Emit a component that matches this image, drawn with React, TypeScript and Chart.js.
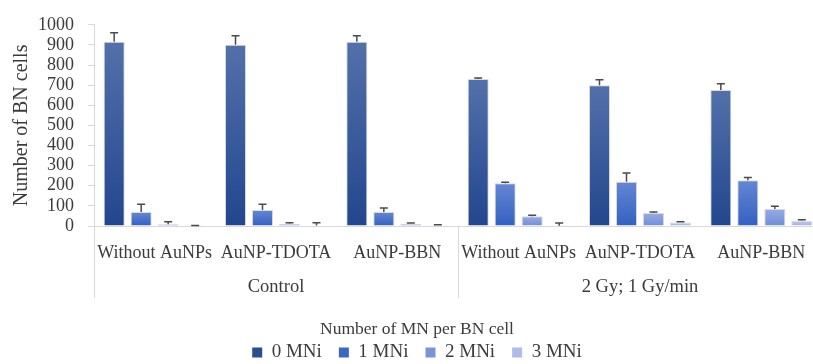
import React, { useEffect, useRef } from "react";
import { Chart, registerables } from "chart.js";

Chart.register(...registerables);

// Treatment categories (x axis) and the two outer groups they belong to
const categories = [
  "Without AuNPs",
  "AuNP-TDOTA",
  "AuNP-BBN",
  "Without AuNPs",
  "AuNP-TDOTA",
  "AuNP-BBN",
];
const groups = ["Control", "2 Gy; 1 Gy/min"];
const groupSize = 3;

// Number of BN cells by micronuclei count
const seriesNames = ["0 MNi", "1 MNi", "2 MNi", "3 MNi"];
const mn0 = [916, 901, 916, 731, 700, 676];
const mn1 = [69, 79, 70, 213, 220, 228];
const mn2 = [9, 11, 11, 48, 64, 85];
const mn3 = [1, 2, 4, 1, 18, 26];

// Upper error bars
const err0 = [44, 44, 29, 4, 27, 31];
const err1 = [39, 29, 20, 5, 43, 13];
const err2 = [12, 5, 4, 6, 5, 13];
const err3 = [1, 14, 2, 14, 3, 5];

const yMin = 0;
const yMax = 1000;
const yStep = 100;

const seriesValues = [mn0, mn1, mn2, mn3];
const seriesErrors = [err0, err1, err2, err3];

// gradient top, gradient bottom, flat (legend) colour
const palette = [
  ["#5370aa", "#22468e", "#2b4e92"],
  ["#6586d3", "#3361c2", "#3a66c4"],
  ["#97abe3", "#6f8fd8", "#7893d8"],
  ["#bdc8ee", "#a3b3e7", "#aebde9"],
];

const FONT = "'Liberation Serif', 'Times New Roman', serif";
const TEXT = "#3b3b3b";
const AXIS = "#d9d9d9";

const barFill = (s: number) => (ctx: any) => {
  const chart = ctx.chart;
  if (ctx.type !== "data" || !chart.chartArea) return palette[s][2];
  const y = chart.scales.y;
  const top = y.getPixelForValue(ctx.raw);
  const bottom = y.getPixelForValue(0);
  if (!(bottom - top > 0.5)) return palette[s][1];
  const g = chart.ctx.createLinearGradient(0, top, 0, bottom);
  g.addColorStop(0, palette[s][0]);
  g.addColorStop(1, palette[s][1]);
  return g;
};

const errorBars = {
  id: "errorBars",
  afterDatasetsDraw(chart: any) {
    const { ctx } = chart;
    const y = chart.scales.y;
    ctx.save();
    ctx.strokeStyle = "#4a4a4a";
    ctx.lineWidth = 1.5;
    chart.data.datasets.forEach((ds: any, i: number) => {
      const meta = chart.getDatasetMeta(i);
      meta.data.forEach((bar: any, j: number) => {
        const top = y.getPixelForValue(ds.data[j] + ds.errors[j]);
        const x = bar.x;
        ctx.beginPath();
        ctx.moveTo(x, bar.y);
        ctx.lineTo(x, top);
        ctx.moveTo(x - 4, top);
        ctx.lineTo(x + 4, top);
        ctx.stroke();
      });
    });
    ctx.restore();
  },
};

const groupAxis = {
  id: "groupAxis",
  afterLayout(chart: any) {
    // centre the legend on the full canvas width rather than the padded box
    const lg = chart.legend;
    if (lg) {
      const shift = (chart.width - (lg.left + lg.right)) / 2;
      lg.left += shift;
      lg.right += shift;
    }
  },
  afterDraw(chart: any) {
    const { ctx, chartArea } = chart;
    const xs = chart.scales.x;
    const catW = (xs.right - xs.left) / categories.length;
    ctx.save();
    ctx.strokeStyle = AXIS;
    ctx.lineWidth = 1;
    for (let g = 0; g <= groups.length; g++) {
      const x = Math.round(xs.left + g * groupSize * catW) + 0.5;
      ctx.beginPath();
      ctx.moveTo(x, chartArea.bottom);
      ctx.lineTo(x, chartArea.bottom + 72);
      ctx.stroke();
    }
    ctx.fillStyle = TEXT;
    ctx.font = `18.5px ${FONT}`;
    ctx.textAlign = "center";
    ctx.textBaseline = "middle";
    groups.forEach((name, g) => {
      const cx = xs.left + (g * groupSize + groupSize / 2) * catW;
      ctx.fillText(name, cx, chartArea.bottom + 61);
    });
    ctx.restore();
  },
};

export default function App() {
  const ref = useRef<HTMLCanvasElement>(null);

  useEffect(() => {
    if (!ref.current) return;
    const chart = new Chart(ref.current, {
      type: "bar",
      data: {
        labels: categories,
        datasets: seriesNames.map((name, s) => ({
          label: name,
          data: seriesValues[s],
          errors: seriesErrors[s],
          backgroundColor: barFill(s),
          borderColor: "rgba(150,150,150,0.35)",
          borderWidth: 1,
          categoryPercentage: 0.89,
          barPercentage: 0.78,
        })) as any,
      },
      options: {
        animation: false,
        responsive: false,
        maintainAspectRatio: false,
        layout: { padding: { top: 22, right: 12, bottom: -8, left: 0 } },
        plugins: {
          tooltip: { enabled: false },
          legend: {
            position: "bottom",
            title: {
              display: true,
              text: "Number of MN per BN cell",
              color: TEXT,
              font: { family: FONT, size: 17.5 },
              padding: { top: 4, bottom: -16 },
            },
            labels: {
              color: TEXT,
              font: { family: FONT, size: 19 },
              boxWidth: 10,
              boxHeight: 10,
              padding: 17,
              generateLabels: (chart: any) =>
                chart.data.datasets.map((ds: any, i: number) => ({
                  text: ds.label,
                  fillStyle: palette[i][2],
                  strokeStyle: palette[i][2],
                  lineWidth: 0,
                  fontColor: TEXT,
                  datasetIndex: i,
                  hidden: false,
                })),
            },
          },
        },
        scales: {
          x: {
            grid: { display: false },
            border: { display: true, color: AXIS },
            ticks: {
              color: TEXT,
              font: { family: FONT, size: 18 },
              padding: 8,
              maxRotation: 0,
              autoSkip: false,
            },
            afterFit: (s: any) => {
              s.height = 91;
            },
          },
          y: {
            min: yMin,
            max: yMax,
            grid: {
              drawOnChartArea: false,
              drawTicks: true,
              tickLength: 6,
              color: AXIS,
            },
            border: { display: true, color: AXIS },
            ticks: {
              stepSize: yStep,
              autoSkip: false,
              color: TEXT,
              font: { family: FONT, size: 18 },
              padding: 14,
              callback: (v: any) => String(v),
            },
            title: {
              display: true,
              text: "Number of BN cells",
              color: TEXT,
              font: { family: FONT, size: 20 },
              padding: { top: 10, bottom: 0 },
            },
            afterFit: (s: any) => {
              s.width = 94;
            },
          },
        },
      },
      plugins: [errorBars, groupAxis],
    });
    return () => chart.destroy();
  }, []);

  return (
    <div
      style={{
        position: "fixed",
        left: 0,
        top: 0,
        width: 813,
        height: 364,
        overflow: "hidden",
        background: "#fff",
      }}
    >
      <canvas ref={ref} width={834} height={364} style={{ display: "block" }} />
    </div>
  );
}
